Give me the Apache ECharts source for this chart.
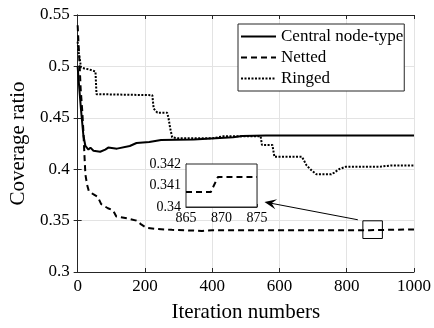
<!DOCTYPE html>
<html>
<head>
<meta charset="utf-8">
<script src="https://cdn.jsdelivr.net/npm/echarts@6/dist/echarts.min.js"></script>
<style>
  html, body { margin: 0; padding: 0; background: #fff; }
  #chart { width: 434px; height: 328px; }
</style>
</head>
<body>
<div id="chart"></div>
<script>
// main axis ticks
const xTicks = [0, 200, 400, 600, 800, 1000];
const yTicks = [0.3, 0.35, 0.4, 0.45, 0.5, 0.55];
// inset ticks
const insetXTicks = [865, 870, 875];
const insetYTicks = [0.34, 0.341, 0.342];

const seriesNames = ['Central node-type', 'Netted', 'Ringed'];

const centralX = [0, 5, 10, 17, 23, 32, 38, 47, 67, 82, 91, 117, 155, 175, 213, 248, 345, 462, 490, 560, 1000];
const centralY = [0.5, 0.478, 0.458, 0.433, 0.4226, 0.419, 0.421, 0.418, 0.417, 0.419, 0.421, 0.420, 0.4226, 0.4255, 0.4265, 0.4283, 0.429, 0.431, 0.4322, 0.4328, 0.4328];

const nettedX = [0, 3, 6, 9, 14, 17, 20, 23, 28, 33, 45, 60, 70, 90, 105, 115, 150, 175, 190, 205, 230, 280, 370, 400, 868.5, 869.5, 1000];
const nettedY = [0.54, 0.52, 0.50, 0.478, 0.455, 0.437, 0.415, 0.395, 0.385, 0.379, 0.376, 0.373, 0.366, 0.362, 0.36, 0.354, 0.352, 0.35, 0.346, 0.343, 0.342, 0.341, 0.340, 0.3405, 0.3407, 0.3414, 0.3414];

const ringedX = [0, 2, 5, 10, 20, 35, 53, 56, 222, 226, 237, 266, 270, 275, 281, 300, 400, 433, 544, 548, 579, 585, 667, 681, 696, 710, 754, 763, 777, 798, 900, 930, 1000];
const ringedY = [0.524, 0.515, 0.51, 0.499, 0.498, 0.497, 0.495, 0.473, 0.472, 0.459, 0.455, 0.455, 0.45, 0.44, 0.431, 0.430, 0.430, 0.432, 0.432, 0.4236, 0.4236, 0.412, 0.412, 0.4035, 0.3987, 0.395, 0.395, 0.3967, 0.400, 0.4025, 0.4025, 0.4035, 0.4035];

// zoomed part of the netted curve
const insetX = [865, 868.5, 869.5, 875];
const insetY = [0.3407, 0.3407, 0.3414, 0.3414];

// zoom box and arrow (data coords of the main axes)
const boxX = [848, 906];
const boxY = [0.3326, 0.3498];
const arrowFrom = [833, 0.3508];
const arrowTo = [573, 0.367];

const zip = (xs, ys) => xs.map((x, i) => [x, ys[i]]);

const FONT = '"Liberation Serif", "DejaVu Serif", serif';
const AX = '#262626';
const GRID = '#e3e3e3';

const chart = echarts.init(document.getElementById('chart'), null, { renderer: 'canvas' });

const step = a => a[1] - a[0];
const plain = v => String(v);

const option = {
  backgroundColor: '#fff',
  animation: false,
  textStyle: { fontFamily: FONT },
  legend: {
    data: seriesNames,
    orient: 'vertical',
    left: 238,
    top: 24,
    padding: [4, 1, 4, 2],
    itemGap: 4,
    itemWidth: 35,
    itemHeight: 14,
    borderColor: AX,
    borderWidth: 1,
    backgroundColor: '#fff',
    itemStyle: { opacity: 0, borderWidth: 0 },
    textStyle: { fontFamily: FONT, fontSize: 17, color: '#000' }
  },
  grid: [
    { left: 72, right: 20, top: 15, bottom: 52 },
    { left: 186, top: 164, width: 71, height: 43, show: true, backgroundColor: '#fff', borderColor: AX, borderWidth: 1, z: 5 }
  ],
  xAxis: [
    {
      type: 'value', gridIndex: 0,
      min: xTicks[0], max: xTicks[xTicks.length - 1], interval: step(xTicks),
      name: 'Iteration numbers', nameLocation: 'middle', nameGap: 30,
      nameTextStyle: { fontFamily: FONT, fontSize: 21, color: '#000' },
      axisLine: { lineStyle: { color: AX, width: 1 } },
      axisTick: { inside: true, length: 4, lineStyle: { color: AX } },
      axisLabel: { fontFamily: FONT, fontSize: 17, color: '#000', margin: 6, formatter: plain },
      splitLine: { show: true, lineStyle: { color: GRID, width: 1 } }
    },
    {
      type: 'value', gridIndex: 0, position: 'top',
      min: xTicks[0], max: xTicks[xTicks.length - 1], interval: step(xTicks),
      axisLine: { lineStyle: { color: AX, width: 1 } },
      axisTick: { inside: true, length: 4, lineStyle: { color: AX } },
      axisLabel: { show: false },
      splitLine: { show: false }
    },
    {
      type: 'value', gridIndex: 1,
      min: insetXTicks[0], max: insetXTicks[insetXTicks.length - 1], interval: step(insetXTicks),
      axisLine: { lineStyle: { color: AX, width: 1 } },
      axisTick: { inside: true, length: 3, lineStyle: { color: AX } },
      axisLabel: { fontFamily: FONT, fontSize: 14, color: '#000', margin: 4, formatter: plain },
      splitLine: { show: true, lineStyle: { color: GRID, width: 1 } }
    }
  ],
  yAxis: [
    {
      type: 'value', gridIndex: 0,
      min: yTicks[0], max: yTicks[yTicks.length - 1], interval: 0.05,
      name: 'Coverage ratio', nameLocation: 'middle', nameGap: 46,
      nameTextStyle: { fontFamily: FONT, fontSize: 21, color: '#000' },
      axisLine: { show: true, lineStyle: { color: AX, width: 1 } },
      axisTick: { show: true, inside: true, length: 4, lineStyle: { color: AX } },
      axisLabel: { fontFamily: FONT, fontSize: 17, color: '#000', margin: 8 },
      splitLine: { show: true, lineStyle: { color: GRID, width: 1 } }
    },
    {
      type: 'value', gridIndex: 0, position: 'right',
      min: yTicks[0], max: yTicks[yTicks.length - 1], interval: 0.05,
      axisLine: { show: true, lineStyle: { color: AX, width: 1 } },
      axisTick: { show: true, inside: true, length: 4, lineStyle: { color: AX } },
      axisLabel: { show: false },
      splitLine: { show: false }
    },
    {
      type: 'value', gridIndex: 1,
      min: insetYTicks[0], max: insetYTicks[insetYTicks.length - 1], interval: 0.001,
      axisLine: { show: true, lineStyle: { color: AX, width: 1 } },
      axisTick: { show: true, inside: true, length: 3, lineStyle: { color: AX } },
      axisLabel: { fontFamily: FONT, fontSize: 14, color: '#000', margin: 5 },
      splitLine: { show: true, lineStyle: { color: GRID, width: 1 } }
    }
  ],
  series: [
    {
      name: seriesNames[0], type: 'line', xAxisIndex: 0, yAxisIndex: 0,
      data: zip(centralX, centralY), showSymbol: false, symbol: 'none',
      lineStyle: { color: '#000', width: 2, type: 'solid' },
      itemStyle: { color: '#000' }
    },
    {
      name: seriesNames[1], type: 'line', xAxisIndex: 0, yAxisIndex: 0,
      data: zip(nettedX, nettedY), showSymbol: false, symbol: 'none',
      lineStyle: { color: '#000', width: 2, type: [6, 4] },
      itemStyle: { color: '#000' },
      markArea: {
        silent: true,
        itemStyle: { color: 'rgba(0,0,0,0)', borderColor: '#000', borderWidth: 1 },
        data: [[{ coord: [boxX[0], boxY[0]] }, { coord: [boxX[1], boxY[1]] }]]
      },
      markLine: {
        silent: true,
        symbol: ['none', 'path://M5,0 L10,10 L5,6 L0,10 Z'],
        symbolSize: [10, 12],
        label: { show: false },
        lineStyle: { color: '#000', width: 1, type: 'solid' },
        data: [[{ coord: arrowFrom }, { coord: arrowTo }]]
      }
    },
    {
      name: seriesNames[2], type: 'line', xAxisIndex: 0, yAxisIndex: 0,
      data: zip(ringedX, ringedY), showSymbol: false, symbol: 'none',
      lineStyle: { color: '#000', width: 2, type: [2, 1.5] },
      itemStyle: { color: '#000' }
    },
    {
      name: 'inset', type: 'line', xAxisIndex: 2, yAxisIndex: 2, z: 6,
      data: zip(insetX, insetY), showSymbol: false, symbol: 'none',
      lineStyle: { color: '#000', width: 2, type: [6, 4] }
    }
  ]
};

chart.setOption(option);
</script>
</body>
</html>
